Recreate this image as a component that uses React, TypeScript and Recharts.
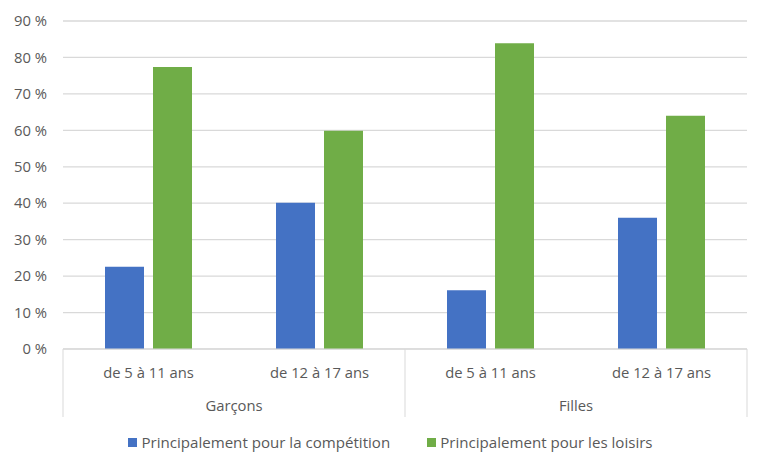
import { BarChart, Bar, XAxis, YAxis, CartesianGrid, Legend } from 'recharts'

const ageGroups = ['de 5 à 11 ans', 'de 12 à 17 ans', 'de 5 à 11 ans', 'de 12 à 17 ans']
const sexes = ['Garçons', 'Garçons', 'Filles', 'Filles']
const competition = [22.6, 40.1, 16.1, 36.0]
const loisirs = [77.4, 59.9, 83.9, 64.0]
const yTicks = [0, 10, 20, 30, 40, 50, 60, 70, 80, 90]

const data = ageGroups.map((age, i) => ({
  age,
  sex: sexes[i],
  competition: competition[i],
  loisirs: loisirs[i],
}))

const TEXT = '#595959'
const LINE = '#d9d9d9'

const halfBand = (props: any) => {
  const off = props.payload && props.payload.offset
  if (typeof off === 'number' && off > 0) return off
  return props.width / props.visibleTicksCount / 2
}

const AgeTick = (props: any) => {
  const { x, y, payload, index, visibleTicksCount } = props
  const half = halfBand(props)
  return (
    <g>
      {index % 2 === 0 && <line x1={x - half} x2={x - half} y1={y} y2={y + 68} stroke={LINE} />}
      {index === visibleTicksCount - 1 && <line x1={x + half} x2={x + half} y1={y} y2={y + 68} stroke={LINE} />}
      <text x={x} y={y + 24} dy="0.35em" textAnchor="middle" fill={TEXT} fontSize={14.8}>
        {payload.value}
      </text>
    </g>
  )
}

const SexTick = (props: any) => {
  const { x, y, payload } = props
  return (
    <text x={x} y={y + 22} dy="0.35em" textAnchor="middle" fill={TEXT} fontSize={14.8}>
      {payload.value}
    </text>
  )
}

const LegendContent = (props: any) => {
  const { payload } = props
  return (
    <div style={{ height: 54, display: 'flex', justifyContent: 'center', alignItems: 'center', paddingBottom: 4, paddingLeft: 34, boxSizing: 'border-box', gap: 37 }}>
      {payload.map((entry: any) => (
        <div key={entry.value} style={{ display: 'flex', alignItems: 'center', color: TEXT, fontSize: 15.1 }}>
          <span style={{ width: 9, height: 9, background: entry.color, display: 'inline-block', marginRight: 4 }} />
          {entry.value}
        </div>
      ))}
    </div>
  )
}

export default function App() {
  return (
    <div style={{ position: 'absolute', left: 0, top: 0, width: 768, height: 471, background: '#fff', fontFamily: '"Open Sans", sans-serif' }}>
      <BarChart width={768} height={471} data={data} margin={{ top: 21, right: 21, bottom: 0, left: 0 }} barSize={39} barGap={9}>
        <CartesianGrid vertical={false} stroke={LINE} strokeWidth={1.3} />
        <XAxis dataKey="age" tick={<AgeTick />} tickLine={false} tickSize={0} tickMargin={0} height={35} axisLine={{ stroke: LINE }} interval={0} />
        <XAxis xAxisId="sex" dataKey="sex" allowDuplicatedCategory={false} tick={<SexTick />} tickLine={false} tickSize={0} tickMargin={0} height={33} axisLine={false} interval={0} />
        <YAxis domain={[0, 90]} ticks={yTicks} width={63} axisLine={false} tickLine={false} tickSize={0} tickMargin={16} tickFormatter={(v: number) => `${v} %`} tick={{ fill: TEXT, fontSize: 14.8 }} />
        <Legend content={<LegendContent />} verticalAlign="bottom" />
        <Bar dataKey="competition" name="Principalement pour la compétition" fill="#4472C4" isAnimationActive={false} />
        <Bar dataKey="loisirs" name="Principalement pour les loisirs" fill="#70AD47" isAnimationActive={false} />
      </BarChart>
    </div>
  )
}
